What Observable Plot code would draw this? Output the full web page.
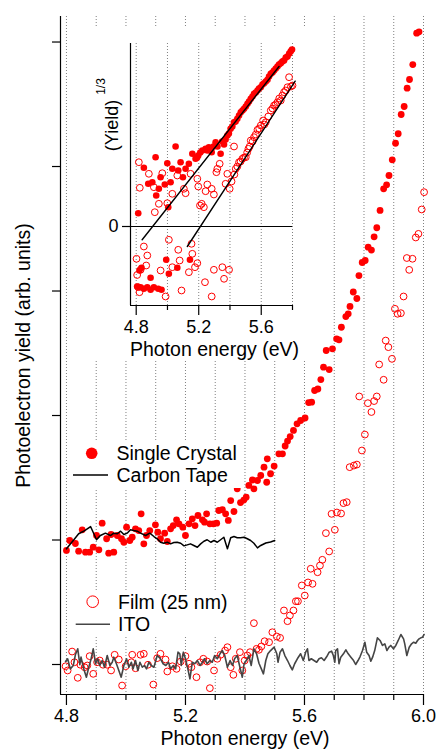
<!DOCTYPE html>
<html><head><meta charset="utf-8">
<script src="https://cdn.jsdelivr.net/npm/d3@7"></script>
<script src="https://cdn.jsdelivr.net/npm/@observablehq/plot@0.6"></script>
<style>
body{margin:0;background:#fff;}
#wrap{position:relative;width:439px;height:749px;overflow:hidden;font-family:"Liberation Sans",Arial,Helvetica,sans-serif;}
#inset{position:absolute;left:92px;top:27px;width:218px;height:333px;background:#fff;}
.leg{position:absolute;}
</style></head><body>
<div id="wrap"><div id="main"></div><div id="inset"></div></div>
<script>
// ---------- main chart data ----------
const crystalE = [4.800,4.811,4.830,4.841,4.853,4.864,4.878,4.890,4.901,4.909,
4.920,4.935,4.942,4.950,4.959,4.971,4.985,4.993,5.002,5.013,
5.021,5.032,5.043,5.051,5.060,5.069,5.080,5.099,5.107,5.116,
5.130,5.139,5.150,5.159,5.170,5.178,5.191,5.200,5.212,5.223,
5.232,5.242,5.257,5.264,5.271,5.282,5.294,5.305,5.312,5.324,
5.335,5.344,5.352,5.363,5.374,5.385,5.396,5.404,5.413,5.425,
5.430,5.442,5.453,5.464,5.473,5.475,5.486,5.498,5.514,5.526,
5.535,5.543,5.552,5.563,5.575,5.587,5.602,5.614,5.624,5.634,
5.645,5.655,5.664,5.673,5.683,5.694,5.708,5.716,5.724,5.739,
5.747,5.753,5.764,5.776,5.783,5.794,5.804,5.814,5.825,5.834,
5.843,5.854,5.866,5.876,5.884,5.895,5.906,5.915,5.925,5.935,
5.945,5.953,5.964,5.977,5.985];
const crystalY = [0.916,0.996,0.972,0.910,1.082,0.902,0.902,0.942,1.036,0.921,
1.135,1.010,0.894,1.044,0.902,1.036,1.010,0.982,1.103,0.996,
1.022,1.090,1.076,1.210,0.969,1.036,1.076,1.122,1.063,1.010,
1.055,0.988,1.090,1.116,1.162,1.130,1.103,1.036,1.130,1.170,
1.116,1.197,1.162,1.143,1.210,1.130,1.130,1.135,1.237,1.243,
1.210,1.157,1.317,1.229,1.411,1.301,1.321,1.344,1.438,1.482,
1.411,1.478,1.518,1.585,1.464,1.652,1.532,1.594,1.692,1.692,
1.755,1.795,1.831,1.880,1.933,1.960,1.980,2.104,2.107,2.201,
2.213,2.289,2.388,2.522,2.369,2.536,2.616,2.608,2.709,2.795,
2.817,2.876,2.992,2.940,3.124,3.229,3.245,3.352,3.329,3.435,
3.508,3.647,3.821,3.853,3.928,4.054,4.187,4.263,4.418,4.482,
4.629,4.699,4.819,5.071,5.082];

const tapeE = [4.800,4.825,4.841,4.856,4.870,4.881,4.892,4.901,4.914,4.931,
4.948,4.959,4.971,4.982,4.993,5.004,5.015,5.026,5.038,5.049,
5.066,5.080,5.094,5.105,5.116,5.127,5.139,5.150,5.161,5.172,
5.184,5.195,5.206,5.217,5.228,5.240,5.251,5.262,5.273,5.285,
5.296,5.307,5.318,5.329,5.341,5.352,5.363,5.374,5.385,5.397,
5.408,5.419,5.430,5.442,5.453,5.470,5.486,5.500];
const tapeY = [0.929,1.002,1.050,1.068,1.090,1.108,1.050,1.002,1.036,1.055,
1.036,1.055,1.050,1.071,1.044,1.055,1.082,1.076,1.071,1.055,
1.036,1.055,1.028,1.010,0.982,0.974,0.982,0.969,0.980,0.982,
0.974,0.953,0.961,0.969,0.956,0.942,0.969,0.990,1.002,0.982,
0.996,0.982,1.002,1.022,0.929,1.018,1.028,1.018,1.018,1.022,
1.010,0.996,0.974,0.937,0.956,0.976,0.984,0.996];

const filmE = [4.797,4.804,4.819,4.827,4.838,4.847,4.861,4.870,4.878,4.890,
4.903,4.912,4.923,4.937,4.950,4.962,4.976,4.987,4.999,5.018,
5.021,5.032,5.049,5.060,5.074,5.092,5.105,5.116,5.133,5.139,
5.156,5.170,5.184,5.200,5.212,5.220,5.237,5.249,5.260,5.273,
5.282,5.296,5.307,5.318,5.333,5.341,5.352,5.361,5.369,5.383,
5.391,5.399,5.408,5.417,5.430,5.439,5.447,5.455,5.466,5.481,
5.492,5.507,5.518,5.531,5.543,5.551,5.563,5.571,5.578,5.591,
5.601,5.612,5.621,5.627,5.644,5.652,5.660,5.672,5.683,5.691,
5.702,5.709,5.723,5.731,5.742,5.752,5.766,5.776,5.784,5.793,
5.803,5.813,5.825,5.834,5.843,5.851,5.866,5.873,5.882,5.894,
5.904,5.913,5.924,5.933,5.944,5.952,5.963,5.974,5.983,5.994,
6.002];
const filmY = [-0.014,-0.048,0.104,0.018,-0.107,-0.002,-0.022,-0.008,0.067,-0.075,
0.018,0.032,-0.002,-0.002,-0.048,0.078,0.040,-0.169,-0.014,0.018,
0.078,-0.030,0.078,0.086,-0.002,-0.161,0.051,0.086,0.040,-0.056,
-0.014,-0.035,0.024,0.067,0.006,-0.022,-0.102,0.018,0.046,0.024,
-0.190,-0.048,0.046,0.078,0.112,0.139,-0.022,-0.083,0.046,0.099,
-0.048,0.032,0.072,0.099,0.332,0.126,0.118,0.145,0.187,0.179,
0.259,0.225,0.214,0.434,0.348,0.394,0.434,0.508,0.508,0.635,
0.554,0.659,0.769,0.648,0.741,0.795,0.841,1.055,0.908,1.210,
1.082,1.221,1.213,1.296,1.304,1.585,1.598,1.606,2.153,1.719,
1.847,2.099,2.028,2.116,2.153,2.410,2.287,2.602,2.549,2.455,
2.857,2.817,2.822,2.956,3.265,3.170,3.259,3.430,3.459,3.655,
3.794];

const itoE = [4.797,4.804,4.813,4.823,4.830,4.838,4.845,4.849,4.858,4.867,
4.875,4.883,4.890,4.898,4.905,4.912,4.920,4.928,4.937,4.946,
4.954,4.959,4.968,4.976,4.984,4.993,5.002,5.010,5.018,5.024,
5.032,5.040,5.047,5.055,5.062,5.069,5.077,5.085,5.094,5.105,
5.116,5.125,5.134,5.143,5.150,5.159,5.167,5.175,5.181,5.186,
5.193,5.200,5.208,5.215,5.223,5.231,5.240,5.249,5.257,5.264,
5.273,5.282,5.290,5.298,5.307,5.316,5.324,5.332,5.341,5.350,
5.358,5.365,5.374,5.383,5.391,5.397,5.406,5.413,5.421,5.430,
5.439,5.447,5.455,5.462,5.470,5.477,5.486,5.498,5.507,5.511,
5.518,5.526,5.534,5.543,5.551,5.559,5.567,5.576,5.587,5.596,
5.604,5.610,5.615,5.623,5.632,5.641,5.649,5.657,5.666,5.675,
5.683,5.691,5.697,5.702,5.705,5.711,5.716,5.722,5.731,5.739,
5.747,5.756,5.765,5.772,5.780,5.787,5.795,5.803,5.809,5.817,
5.823,5.829,5.836,5.845,5.854,5.862,5.870,5.877,5.884,5.890,
5.899,5.907,5.915,5.924,5.933,5.937,5.944,5.952,5.960,5.967,
5.974,5.980,5.985,5.991,5.997,6.002];
const itoY = [0.024,0.046,-0.035,-0.008,0.078,0.126,-0.002,0.059,-0.035,-0.102,
-0.022,0.046,0.126,0.006,0.046,-0.008,0.032,-0.022,0.072,-0.008,
0.018,0.059,0.006,-0.048,-0.102,-0.008,0.046,-0.022,0.018,-0.035,
0.032,-0.048,0.018,-0.022,-0.008,-0.035,0.018,-0.008,-0.022,0.072,
0.046,0.006,-0.008,0.018,-0.035,-0.008,-0.035,0.099,0.086,-0.008,
0.099,0.046,-0.035,-0.115,0.018,0.006,0.032,-0.008,0.018,0.046,
0.006,0.032,0.018,0.072,0.046,0.086,0.112,0.072,-0.022,0.032,
-0.008,0.046,0.072,-0.022,-0.102,0.006,0.038,0.072,-0.008,0.126,
0.086,0.010,-0.035,-0.075,0.032,0.086,0.112,0.139,0.086,0.018,
0.099,0.126,0.072,0.032,-0.008,-0.043,0.006,0.046,0.086,0.032,
0.099,0.126,0.032,0.046,0.032,0.018,0.046,0.054,0.032,0.064,
0.099,0.107,0.072,0.018,0.112,0.126,0.006,0.059,0.086,0.118,
0.086,0.059,0.032,0.000,0.032,0.064,0.112,0.179,0.099,0.072,
0.027,0.059,0.112,0.214,0.193,0.153,0.166,0.112,0.139,0.153,
0.126,0.153,0.193,0.241,0.206,0.166,0.072,0.139,0.166,0.179,
0.171,0.193,0.206,0.214,0.219,0.241];

// ---------- inset data: (Yield)^1/3 ----------
const insetCrystalE = [4.806,4.813,4.821,4.828,4.834,4.849,4.849,4.871,4.877,4.892,
4.892,4.903,4.913,4.924,4.928,4.941,4.945,4.956,4.962,4.983,
4.992,4.999,5.005,5.009,5.020,5.031,5.052,5.063,5.069,5.084,
5.099,5.116,5.137,5.144,5.159,5.180,5.190,5.197,5.210,5.223,
5.244,5.255,5.265,5.283,5.295,5.308,5.320,5.340,5.350,5.362,
5.372,5.383,5.393,5.404,5.415,5.426,5.436,5.447,5.458,5.469,
5.480,5.490,5.501,5.512,5.522,5.533,5.544,5.554,5.565,5.576,
5.586,5.597,5.608,5.618,5.629,5.640,5.650,5.661,5.672,5.682,
5.693,5.704,5.714,5.725,5.735,5.746,5.757,5.768,5.779,5.789,
5.797];
const insetCrystalY = [-0.600,0.133,-0.440,-0.607,-0.413,-0.623,0.587,-0.607,0.427,-0.513,
-0.633,0.443,-0.607,0.693,0.310,-0.623,0.377,0.493,-0.633,0.420,
-0.333,0.633,0.193,-0.473,0.443,0.577,0.800,-0.413,0.560,0.643,
0.493,0.577,0.627,-0.333,0.727,0.677,0.690,0.710,0.740,0.760,
0.777,0.760,0.793,0.743,0.800,0.843,0.800,0.727,0.850,0.820,
0.870,0.910,0.930,0.977,1.000,1.043,1.050,1.077,1.110,1.143,
1.160,1.177,1.200,1.227,1.250,1.277,1.300,1.327,1.340,1.360,
1.380,1.393,1.420,1.433,1.450,1.467,1.500,1.527,1.540,1.560,
1.580,1.600,1.620,1.633,1.650,1.660,1.690,1.700,1.730,1.753,
1.770];
const insetFilmE = [4.802,4.806,4.813,4.817,4.821,4.823,4.828,4.849,4.864,4.871,
4.881,4.913,4.919,4.945,4.956,4.967,4.988,4.999,5.009,5.031,
5.031,5.063,5.069,5.078,5.090,5.105,5.116,5.137,5.148,5.154,
5.159,5.176,5.191,5.191,5.197,5.208,5.219,5.233,5.240,5.244,
5.255,5.283,5.283,5.297,5.297,5.313,5.319,5.334,5.351,5.362,
5.372,5.383,5.394,5.398,5.410,5.426,5.428,5.437,5.447,5.458,
5.468,5.479,5.490,5.501,5.510,5.518,5.526,5.533,5.545,5.554,
5.565,5.576,5.587,5.597,5.612,5.620,5.629,5.645,5.661,5.672,
5.682,5.693,5.704,5.715,5.725,5.735,5.746,5.757,5.768,5.778,
5.790,5.800];
const insetFilmY = [-0.323,-0.485,-0.607,0.643,-0.657,0.387,-0.433,-0.200,-0.390,-0.290,
0.527,0.393,0.143,0.227,-0.440,0.533,-0.700,0.233,-0.133,0.327,
-0.407,0.510,-0.233,-0.340,-0.640,0.377,0.333,-0.457,0.527,-0.173,
-0.273,-0.407,0.477,-0.367,0.400,0.210,0.227,0.193,-0.557,0.353,
0.420,0.377,-0.700,0.320,-0.433,0.543,0.577,0.627,-0.407,-0.523,
0.427,0.527,-0.433,0.377,0.450,0.800,0.520,0.577,0.600,0.643,
0.650,0.677,0.690,0.693,0.740,0.777,0.800,0.860,0.850,0.893,
0.920,0.967,0.980,1.010,1.060,1.020,1.043,1.100,1.160,1.180,
1.210,1.220,1.243,1.280,1.260,1.310,1.343,1.360,1.393,1.493,
1.400,1.410];
const fitCrystalE = [4.838, 5.714];
const fitCrystalY = [-0.133, 1.600];
const fitFilmE = [5.127, 5.817];
const fitFilmY = [-0.200, 1.453];

// ---------- axes / ticks / labels ----------
const mainXDomain = [4.78, 6.0];
const mainYDomain = [-0.241, 5.205];
const mainMajorTicks = [4.8, 5.2, 5.6, 6.0];
const mainMinorTicks = [4.9, 5.0, 5.1, 5.3, 5.4, 5.5, 5.7, 5.8, 5.9];
const mainGrid = [4.8, 4.9, 5.0, 5.1, 5.2, 5.3, 5.4, 5.5, 5.6, 5.7, 5.8, 5.9, 6.0];
const mainYTicks = [0, 1, 2, 3, 4, 5];
const insetXDomain = [4.7635, 5.8];
const insetYDomain = [-0.79, 1.83];
const insetMajorTicks = [4.8, 5.2, 5.6];
const insetMinorTicks = [5.0, 5.4, 5.8];
const insetGrid = [4.8, 5.0, 5.2, 5.4, 5.6, 5.8];
const insetYTicks = [0];
const xTitle = "Photon energy (eV)";
const yTitle = "Photoelectron yield (arb. units)";
const insetYTitle = "(Yield)";
const insetYTitleSup = "1/3";
const legendTop = ["Single Crystal", "Carbon Tape"];
const legendBottom = ["Film (25 nm)", "ITO"];

const FONT = '"Liberation Sans", Arial, Helvetica, sans-serif';
const RED = "#ff0000";
const ITO_GRAY = "#454545";
const GRID = "#808080";

const tbl = (E, Y) => E.map((e, i) => ({E: e, Y: Y[i]}));
const crystal = tbl(crystalE, crystalY);
const tape = tbl(tapeE, tapeY);
const film = tbl(filmE, filmY);
const ito = tbl(itoE, itoY);
const insetCrystal = tbl(insetCrystalE, insetCrystalY);
const insetFilm = tbl(insetFilmE, insetFilmY);
const fitCrystal = tbl(fitCrystalE, fitCrystalY);
const fitFilm = tbl(fitFilmE, fitFilmY);
const fmt1 = d3.format(".1f");
const blank = () => "";
const centered = {textAnchor: "middle", lineAnchor: "middle"};

const main = Plot.plot({
  width: 439, height: 749,
  marginLeft: 60, marginRight: 16, marginTop: 16, marginBottom: 55,
  style: {fontFamily: FONT, fontSize: "18px", color: "#000", background: "transparent", overflow: "visible"},
  x: {domain: mainXDomain, label: null},
  y: {domain: mainYDomain, label: null},
  marks: [
    Plot.ruleX(mainGrid, {stroke: GRID, strokeWidth: 1, strokeDasharray: "1,2"}),
    Plot.ruleX([mainXDomain[0]], {stroke: "#000", strokeWidth: 1.2}),
    Plot.ruleY([mainYDomain[0]], {stroke: "#000", strokeWidth: 1.2}),
    Plot.axisX(mainMajorTicks, {tickSize: 11, tickPadding: 4, tickFormat: fmt1, fontSize: 18, strokeWidth: 1.2}),
    Plot.axisX(mainMinorTicks, {tickSize: 6, tickFormat: blank, strokeWidth: 1.2}),
    Plot.axisY(mainYTicks, {tickSize: 8, tickFormat: blank, strokeWidth: 1.2}),
    Plot.text([yTitle], {...centered, text: d => d, frameAnchor: "left", rotate: -90, dx: -37, fontSize: 19.5}),
    Plot.text([xTitle], {...centered, text: d => d, frameAnchor: "bottom", dy: 44.5, dx: 3, fontSize: 19.5}),
    Plot.dot(film, {x: "E", y: "Y", r: 3.4, stroke: RED, strokeWidth: 1, fill: "none"}),
    Plot.dot(crystal, {x: "E", y: "Y", r: 3.4, fill: RED}),
    Plot.line(ito, {x: "E", y: "Y", stroke: ITO_GRAY, strokeWidth: 1.6}),
    Plot.line(tape, {x: "E", y: "Y", stroke: "#000", strokeWidth: 1.5})
  ]
});
document.getElementById("main").appendChild(main);

const inset = Plot.plot({
  width: 218, height: 333,
  marginLeft: 38, marginRight: 18, marginTop: 16, marginBottom: 55,
  style: {fontFamily: FONT, fontSize: "18px", color: "#000", background: "#fff", overflow: "visible"},
  x: {domain: insetXDomain, label: null},
  y: {domain: insetYDomain, label: null},
  marks: [
    Plot.ruleX(insetGrid, {stroke: GRID, strokeWidth: 1, strokeDasharray: "1,2"}),
    Plot.ruleY(insetYTicks, {stroke: "#000", strokeWidth: 1.2}),
    Plot.ruleX([insetXDomain[0]], {stroke: "#000", strokeWidth: 1.2}),
    Plot.ruleY([insetYDomain[0]], {stroke: "#000", strokeWidth: 1.2}),
    Plot.axisX(insetMajorTicks, {tickSize: 10, tickPadding: 5, tickFormat: fmt1, fontSize: 18, strokeWidth: 1.2}),
    Plot.axisX(insetMinorTicks, {tickSize: 5, tickFormat: blank, strokeWidth: 1.2}),
    Plot.axisY(insetYTicks, {tickSize: 8, tickPadding: 4, tickFormat: d3.format("d"), fontSize: 18, strokeWidth: 1.2}),
    Plot.text([xTitle], {...centered, text: d => d, frameAnchor: "bottom", dy: 44.5, dx: 3, fontSize: 19.5}),
    Plot.text([insetYTitle], {...centered, text: d => d, frameAnchor: "top-left", dx: -18, dy: 82, rotate: -90, fontSize: 18}),
    Plot.text([insetYTitleSup], {...centered, text: d => d, frameAnchor: "top-left", dx: -29, dy: 43, rotate: -90, fontSize: 12}),
    Plot.dot(insetFilm, {x: "E", y: "Y", r: 3.4, stroke: RED, strokeWidth: 1, fill: "none"}),
    Plot.dot(insetCrystal, {x: "E", y: "Y", r: 3.3, fill: RED}),
    Plot.line(fitCrystal, {x: "E", y: "Y", stroke: "#000", strokeWidth: 1.4}),
    Plot.line(fitFilm, {x: "E", y: "Y", stroke: "#000", strokeWidth: 1.4})
  ]
});
document.getElementById("inset").appendChild(inset);

// ---------- legends (opaque boxes, Igor style) ----------
function legend(left, top, w, h, labels, dotFilled, dotPos, linePos, lineColor, textX, textY) {
  const svg = d3.select("#wrap").append("svg").attr("class", "leg")
    .attr("width", w).attr("height", h)
    .style("left", left + "px").style("top", top + "px");
  svg.append("rect").attr("width", w).attr("height", h).attr("fill", "#fff");
  svg.append("circle").attr("cx", dotPos[0]).attr("cy", dotPos[1]).attr("r", 5.8)
    .attr("fill", dotFilled ? RED : "#fff").attr("stroke", RED).attr("stroke-width", dotFilled ? 0 : 1);
  svg.append("line").attr("x1", linePos[0]).attr("x2", linePos[1]).attr("y1", linePos[2]).attr("y2", linePos[2])
    .attr("stroke", lineColor).attr("stroke-width", 1.6);
  labels.forEach((t, i) => {
    svg.append("text").attr("x", textX).attr("y", textY[i]).attr("font-size", 19.5)
      .attr("font-family", FONT).attr("fill", "#000").text(t);
  });
}
legend(70, 440, 172, 48, legendTop, true, [21.7, 13.3], [3, 38, 35], "#000", 46.5, [19.8, 41.8]);
legend(70, 591, 165, 46, legendBottom, false, [22.7, 10.7], [5.7, 40, 33.3], ITO_GRAY, 48, [18.2, 40.3]);
</script>
</body></html>
